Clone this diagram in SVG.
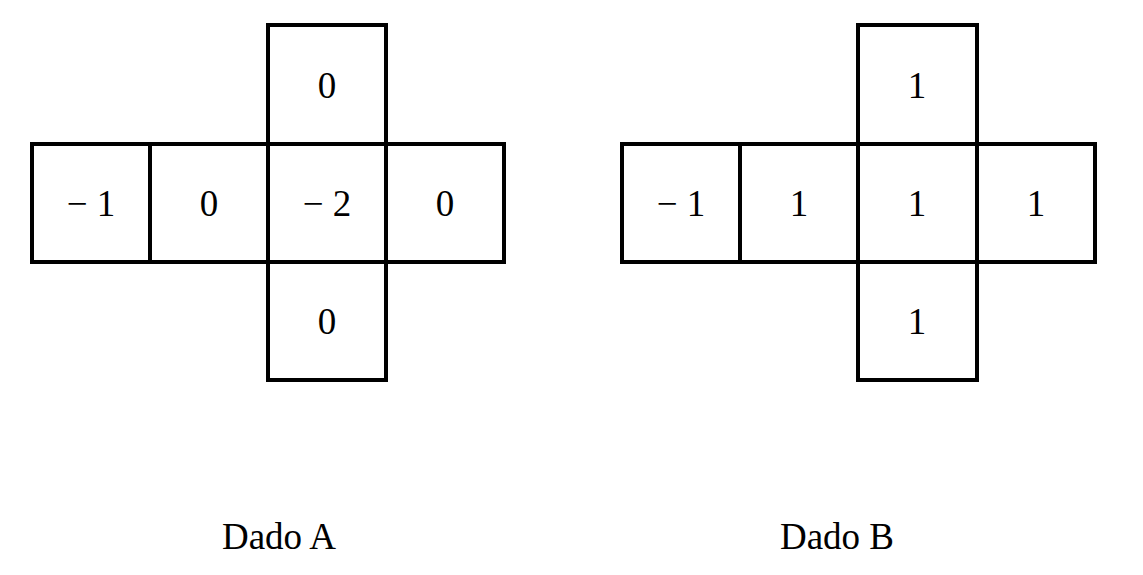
<svg xmlns="http://www.w3.org/2000/svg" width="1143" height="575" viewBox="0 0 1143 575">
<style>
.c{fill:#fff;stroke:#000;stroke-width:4;stroke-linejoin:miter}
text{font-family:"Liberation Serif","DejaVu Serif",serif;font-size:37px;text-anchor:middle;fill:#000}
</style>
<rect width="1143" height="575" fill="#fff"/>
<g id="dadoA">
<rect class="c" x="268" y="25" width="118" height="119"/>
<rect class="c" x="32" y="144" width="118" height="118"/>
<rect class="c" x="150" y="144" width="118" height="118"/>
<rect class="c" x="268" y="144" width="118" height="118"/>
<rect class="c" x="386" y="144" width="118" height="118"/>
<rect class="c" x="268" y="262" width="118" height="118"/>
<text x="327" y="98">0</text>
<text x="91" y="216">− 1</text>
<text x="209" y="216">0</text>
<text x="327" y="216">− 2</text>
<text x="445" y="216">0</text>
<text x="327" y="334">0</text>
</g>
<g id="dadoB">
<rect class="c" x="858" y="25" width="119" height="119"/>
<rect class="c" x="622" y="144" width="118" height="118"/>
<rect class="c" x="740" y="144" width="118" height="118"/>
<rect class="c" x="858" y="144" width="119" height="118"/>
<rect class="c" x="977" y="144" width="118" height="118"/>
<rect class="c" x="858" y="262" width="119" height="118"/>
<text x="917" y="98">1</text>
<text x="681" y="216">− 1</text>
<text x="799" y="216">1</text>
<text x="917" y="216">1</text>
<text x="1036" y="216">1</text>
<text x="917" y="334">1</text>
</g>
<g id="labels">
<text x="279" y="549">Dado A</text>
<text x="837" y="549">Dado B</text>
</g>
<g id="connectors"/>
</svg>
